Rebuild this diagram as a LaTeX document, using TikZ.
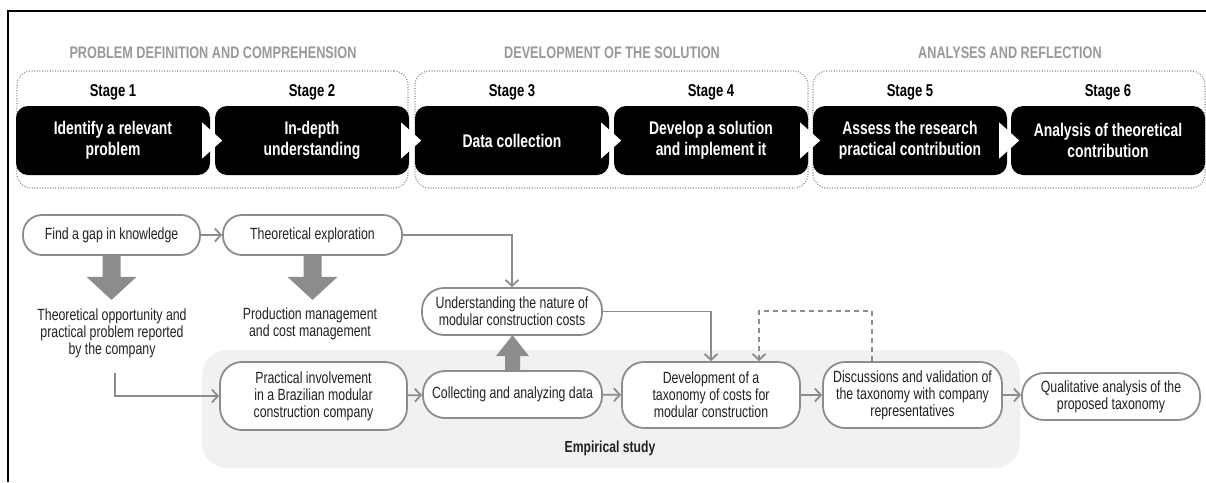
\documentclass[tikz,border=0pt]{standalone}
\usepackage{fontspec}
\setmainfont{Liberation Sans}[FakeStretch=0.76]
\usetikzlibrary{arrows.meta}

\definecolor{linegray}{HTML}{8C8C8C}
\definecolor{labelgray}{HTML}{999999}
\definecolor{dotgray}{HTML}{8A8A8A}
\definecolor{zonegray}{HTML}{F1F1F1}
\definecolor{textdark}{HTML}{222222}

\begin{document}
\begin{tikzpicture}[x=1pt,y=-1pt,
  stagebox/.style={fill=black, rounded corners=12pt, text=white,
    font=\bfseries\fontsize{18.3}{21}\selectfont, align=center,
    minimum width=194pt, minimum height=69pt, inner sep=0pt},
  stagelabel/.style={font=\bfseries\fontsize{17.2}{19}\selectfont},
  grouplabel/.style={text=labelgray, font=\bfseries\fontsize{16.7}{19}\selectfont},
  groupbox/.style={draw=dotgray, line width=1.1pt, dash pattern=on 1pt off 1.6pt,
    rounded corners=14pt, minimum height=117pt, inner sep=0pt},
  stepnode/.style={draw=linegray, line width=1.8pt, fill=white, rounded corners=22pt,
    align=center, text=textdark, font=\fontsize{16.2}{17}\selectfont, inner sep=0pt},
  plain/.style={align=center, text=textdark, font=\fontsize{16.2}{17}\selectfont},
  flow/.style={draw=linegray, line width=1.8pt, -{Straight Barb[length=6pt,width=13pt,line width=1.8pt]}},
  blockarrow/.style={fill=linegray, draw=none},
  gap/.style={fill=white, draw=none}
]
\useasboundingbox (0,0) rectangle (1206,482);

% outer frame (top and left edges only)
\draw[line width=1.3pt] (8,482) -- (8,11) -- (1206,11);

% phase groups
\node[groupbox, minimum width=391pt] (g1) at (212.5,129.5) {};
\node[groupbox, minimum width=393pt] (g2) at (611.5,129.5) {};
\node[groupbox, minimum width=392pt] (g3) at (1009,129.5) {};
\node[grouplabel] (gl1) at (213,53) {PROBLEM DEFINITION AND COMPREHENSION};
\node[grouplabel] (gl2) at (612,53) {DEVELOPMENT OF THE SOLUTION};
\node[grouplabel] (gl3) at (1010,53) {ANALYSES AND REFLECTION};

% stages
\node[stagebox] (b1) at (113,140.5) {Identify a relevant\\problem};
\node[stagebox] (b2) at (312,140.5) {In-depth\\understanding};
\node[stagebox] (b3) at (512,140.5) {Data collection};
\node[stagebox] (b4) at (711,140.5) {Develop a solution\\and implement it};
\node[stagebox] (b5) at (910,140.5) {Assess the research\\practical contribution};
\node[stagebox] (b6) at (1108,140.5) {Analysis of theoretical\\contribution};

\foreach \b/\t in {b1/1,b2/2,b3/3,b4/4,b5/5,b6/6}
  \node[stagelabel] (s\t) at ([yshift=48pt]\b.center) {Stage \t};

% white chevrons joining consecutive stages
\foreach \b in {b1,b2,b3,b4,b5}
  \fill[gap] ([xshift=-8pt]\b.east) ++(0,-18) -- ++(20,18) -- ++(-20,18) -- cycle;

% empirical study zone
\node[fill=zonegray, rounded corners=25pt, minimum width=818pt, minimum height=118pt, inner sep=0pt] (zone) at (611,409) {};
\node[font=\bfseries\fontsize{16}{18}\selectfont, text=textdark] (zl) at (610,448) {Empirical study};

% activities
\node[stepnode, rounded corners=19pt, minimum width=177pt, minimum height=40pt] (find) at (111.5,235) {Find a gap in knowledge};
\node[stepnode, rounded corners=19pt, minimum width=179pt, minimum height=40pt] (theo) at (312.5,235) {Theoretical exploration};
\node[plain] (opp) at (112,333) {Theoretical opportunity and\\practical problem reported\\by the company};
\node[plain] (prod) at (310,324) {Production management\\and cost management};
\node[stepnode, minimum width=180pt, minimum height=47pt] (und) at (512,311.5) {Understanding the nature of\\modular construction costs};
\node[stepnode, minimum width=187pt, minimum height=68pt] (prac) at (313.5,396) {Practical involvement\\in a Brazilian modular\\construction company};
\node[stepnode, minimum width=179pt, minimum height=47pt] (coll) at (512.5,394.5) {Collecting and analyzing data};
\node[stepnode, minimum width=178pt, minimum height=66pt] (dev) at (711,395) {Development of a\\taxonomy of costs for\\modular construction};
\node[stepnode, minimum width=179pt, minimum height=66pt] (disc) at (912.5,395) {Discussions and validation of\\the taxonomy with company\\representatives};
\node[stepnode, minimum width=178pt, minimum height=47pt] (qual) at (1111,396.5) {Qualitative analysis of the\\proposed taxonomy};

% block arrows
\fill[blockarrow] ([xshift=-9pt]find.south) -- ++(0,21) -- ++(-16,0) -- ++(25,23) -- ++(25,-23) -- ++(-16,0) -- ++(0,-21) -- cycle;
\fill[blockarrow] ([xshift=-9pt]theo.south) -- ++(0,21) -- ++(-16,0) -- ++(25,23) -- ++(25,-23) -- ++(-16,0) -- ++(0,-21) -- cycle;
\fill[blockarrow] ([xshift=-7.5pt]coll.north) -- ++(0,-14) -- ++(-9,0) -- ++(16.5,-21) -- ++(16.5,21) -- ++(-9,0) -- ++(0,14) -- cycle;

% connectors
\coordinate (oppout) at (115,373);
\coordinate (dtop) at (872,311);
\draw[flow] (find) -- (theo);
\draw[flow] (theo.east) -| (und.north);
\draw[flow] (oppout) |- (prac.west);
\draw[flow] (prac) -- (coll);
\draw[flow] (coll) -- (dev);
\draw[flow] (und.east) -| (dev.north);
\draw[flow] (dev) -- (disc);
\draw[flow] (disc.east) -- (qual.west |- disc.east);
\draw[flow, dash pattern=on 5pt off 4pt] ([xshift=-40.5pt]disc.north) -- (dtop) -| ([xshift=48pt]dev.north);

\end{tikzpicture}
\end{document}
